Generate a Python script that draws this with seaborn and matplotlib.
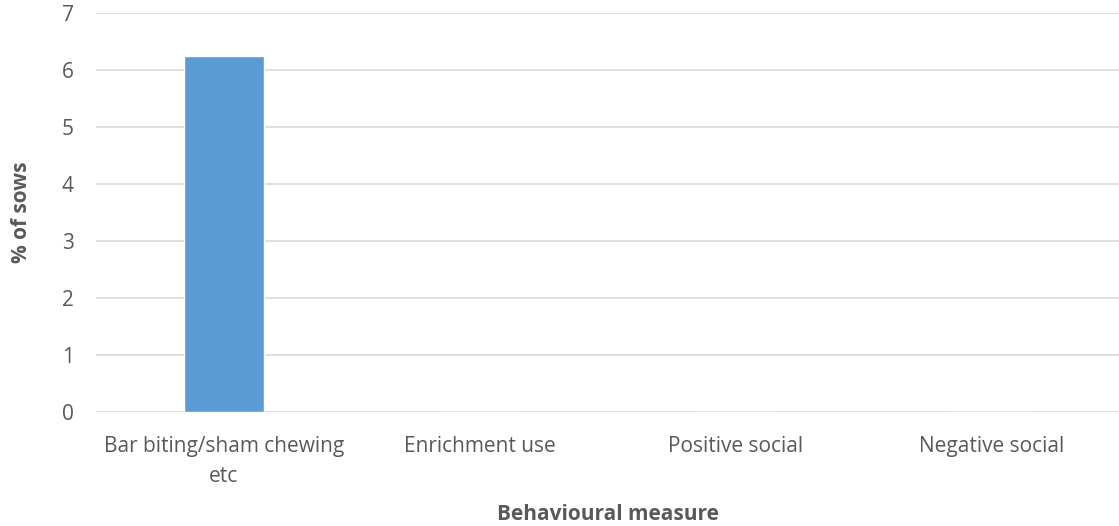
import matplotlib
matplotlib.use('Agg')
import matplotlib.pyplot as plt
import seaborn as sns
import pandas as pd

# Chart data
categories = ['Bar biting/sham chewing\netc', 'Enrichment use', 'Positive social', 'Negative social']
pct_sows = [6.25, 0, 0, 0]
y_ticks = [0, 1, 2, 3, 4, 5, 6, 7]

sns.set_theme(style='white')
plt.rcParams['font.family'] = ['Open Sans', 'DejaVu Sans']

df = pd.DataFrame({'measure': categories, 'pct': pct_sows})

fig = plt.figure(figsize=(11.19, 5.26), dpi=100)
ax = fig.add_axes([0.0858, 0.2167, 0.9142, 0.7586])

text_col = '#595959'
sns.barplot(data=df, x='measure', y='pct', color='#5B9BD5', width=0.31,
            saturation=1, ax=ax, zorder=3)

ax.set_ylim(0, 7)
ax.set_yticks(y_ticks)
ax.yaxis.grid(True, color='#D9D9D9', linewidth=1.2, zorder=0)
ax.set_axisbelow(True)
for s in ax.spines.values():
    s.set_visible(False)
ax.tick_params(axis='both', length=0, labelsize=15, colors=text_col)
ax.tick_params(axis='y', pad=16)
ax.tick_params(axis='x', pad=17)
for lbl in ax.get_xticklabels():
    lbl.set_linespacing(1.6)

ax.set_xlabel('Behavioural measure', fontsize=15, fontweight='bold', color=text_col, va='center')
ax.set_ylabel('% of sows', fontsize=15, fontweight='bold', color=text_col, va='center')
ax.xaxis.set_label_coords(0.5, -0.258)
ax.yaxis.set_label_coords(-0.073, 0.501)

fig.savefig('out.png', dpi=100)
